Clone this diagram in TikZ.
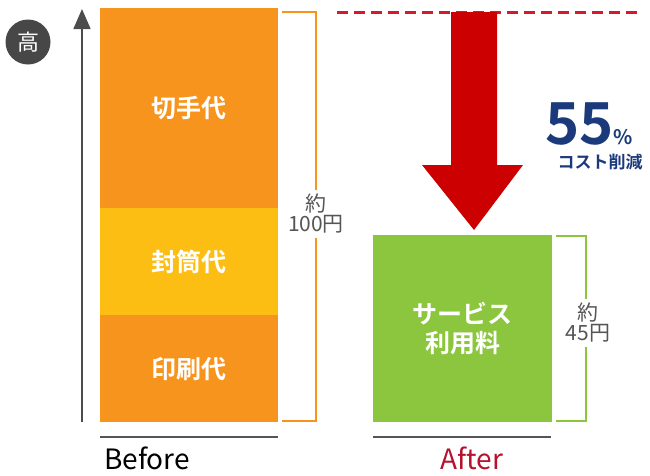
\documentclass[tikz,border=0pt]{standalone}
\usepackage{fontspec}
\setmainfont{Noto Sans CJK JP}[BoldFont={Noto Sans CJK JP Bold}]
\usetikzlibrary{arrows.meta}
\usetikzlibrary{positioning}

\definecolor{barOrange}{HTML}{F7941D}
\definecolor{barYellow}{HTML}{FDBE14}
\definecolor{barGreen}{HTML}{8CC63F}
\definecolor{cutRed}{HTML}{CC0000}
\definecolor{dashRed}{HTML}{D7192D}
\definecolor{pctBlue}{HTML}{1B3A7C}
\definecolor{labelGray}{HTML}{555555}
\definecolor{afterRed}{HTML}{B5122E}

\begin{document}
\begin{tikzpicture}[x = 1pt, y = -1pt]
	\tikzstyle{barStyle} = [anchor = north west, inner sep = 0pt, text = white, font = \fontsize{25}{29}\selectfont\bfseries]
	\tikzstyle{bracketStyle} = [line width = 1.6pt]
	\tikzstyle{amountStyle} = [text = labelGray, align = center, inner sep = 4pt, font = \fontsize{21}{22}\selectfont]
	\tikzstyle{baseStyle} = [line width = 2pt, draw = labelGray]
	\tikzstyle{caseStyle} = [inner sep = 0pt, font = \fontsize{28}{28}\selectfont]
	\useasboundingbox (0,0) rectangle (650,475);
	% axis
	\node[circle, fill = black!72, minimum size = 45pt, inner sep = 0pt, text = white, font = \fontsize{22}{22}\selectfont] (high) at (28,42) {高};
	\coordinate (axisLow) at (82,422);
	\coordinate (axisHigh) at (82,9);
	\draw[line width = 1.6pt, draw = black!70, -{Triangle[length = 20pt, width = 17pt]}] (axisLow) -- (axisHigh);
	% before
	\node[barStyle, fill = barOrange, minimum width = 178pt, minimum height = 200pt] (stamp) at (100,8) {切手代};
	\node[barStyle, fill = barYellow, minimum width = 178pt, minimum height = 107pt] (envelope) at (100,208) {封筒代};
	\node[barStyle, fill = barOrange, minimum width = 178pt, minimum height = 107pt] (printing) at (100,315) {印刷代};
	\node[amountStyle] (before amount) at (316,214) {約\\[-2pt]100円};
	\coordinate (bTopL) at (282,12);
	\coordinate (bTopR) at (316,12);
	\coordinate (bBotL) at (282,421);
	\coordinate (bBotR) at (316,421);
	\draw[bracketStyle, draw = barOrange] (bTopL) -- (bTopR) -- (before amount.north -| bTopR);
	\draw[bracketStyle, draw = barOrange] (before amount.south -| bBotR) -- (bBotR) -- (bBotL);
	% after
	\node[barStyle, fill = barGreen, minimum width = 179pt, minimum height = 187pt, align = center] (service) at (373,235) {サービス\\利用料};
	\node[amountStyle] (after amount) at (588,323) {約\\[-2pt]45円};
	\coordinate (aTopL) at (556,236);
	\coordinate (aTopR) at (586,236);
	\coordinate (aBotL) at (556,421);
	\coordinate (aBotR) at (586,421);
	\draw[bracketStyle, draw = barGreen] (aTopL) -- (aTopR) -- (after amount.north -| aTopR);
	\draw[bracketStyle, draw = barGreen] (after amount.south -| aBotR) -- (aBotR) -- (aBotL);
	% reduction
	\coordinate (dashStart) at (337,12);
	\coordinate (dashEnd) at (637,12);
	\draw[dashRed, line width = 3pt, dash pattern = on 11pt off 6pt] (dashStart) -- (dashEnd);
	\fill[cutRed] (451,12) -- (497,12) -- (497,165) -- (523,165) -- (474,230) -- (422,165) -- (451,165) -- cycle;
	\node[text = pctBlue, inner sep = 0pt, font = \fontsize{58}{58}\selectfont\bfseries] (rate) at (589,124) {55\fontsize{20}{20}\selectfont\%};
	\node[text = pctBlue, inner sep = 0pt, font = \fontsize{17}{17}\selectfont\bfseries] (cut) at (600,162) {コスト削減};
	% baselines
	\coordinate (beforeL) at (100,437);
	\coordinate (beforeR) at (278,437);
	\coordinate (afterL) at (373,437);
	\coordinate (afterR) at (551,437);
	\draw[baseStyle] (beforeL) -- (beforeR);
	\draw[baseStyle] (afterL) -- (afterR);
	\node[caseStyle, anchor = base west] (before) at (104,469) {Before};
	\node[caseStyle, anchor = base, text = afterRed] (after) at (472,469) {After};
\end{tikzpicture}
\end{document}
